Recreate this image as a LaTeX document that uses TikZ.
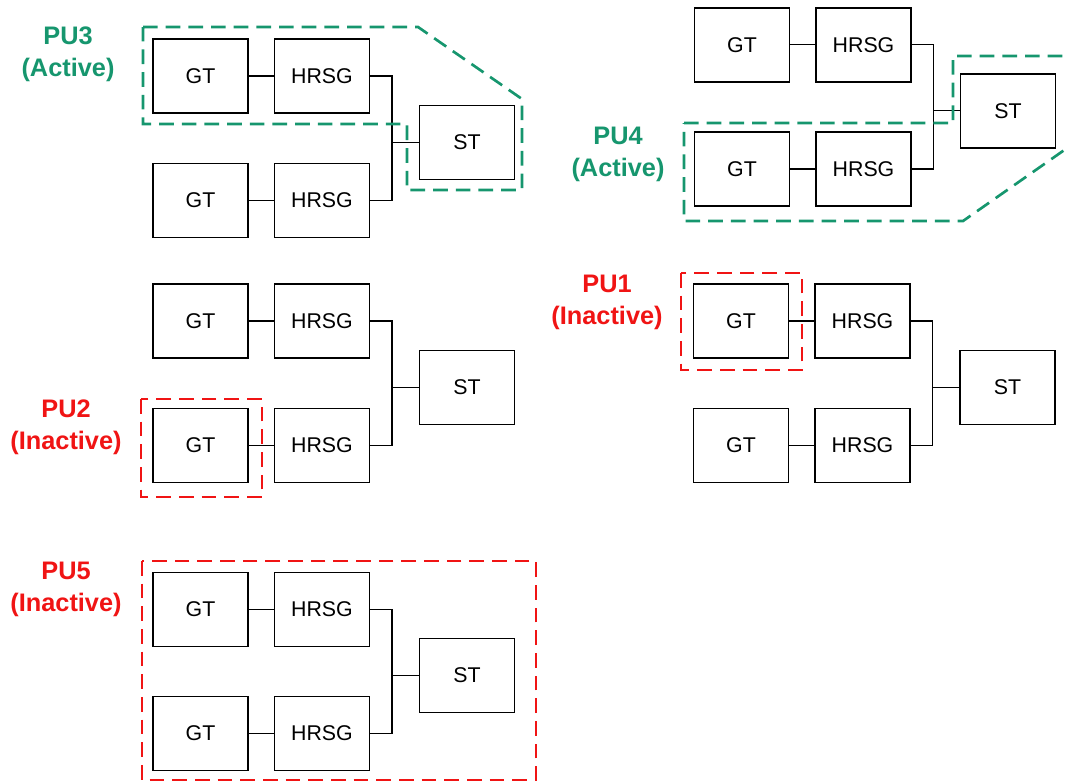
\documentclass[tikz,border=0pt]{standalone}
\usepackage{fontspec}
\setmainfont{Liberation Sans}
\definecolor{puactive}{RGB}{22,150,110}
\definecolor{puinactive}{RGB}{240,20,20}
\tikzset{
  unit/.style={draw, line width=1.2pt, minimum width=71.5pt, minimum height=55.5pt, inner sep=0pt, font=\fontsize{16}{19}\selectfont},
  link/.style={line width=1pt},
  actzone/.style={draw=puactive, line width=2pt, dash pattern=on 11pt off 6pt},
  inactzone/.style={draw=puinactive, line width=2pt, dash pattern=on 11pt off 6pt},
  pulabel/.style={align=center, font=\fontsize{19}{24}\selectfont\bfseries}
}
\begin{document}
\begin{tikzpicture}[x=0.75pt,y=-0.75pt]
\clip (0,0) rectangle (1066,782);

% top left
\node[unit] (gt1a) at (200.5,76){GT};
\node[unit] (hrsg1a) at (322,76){HRSG};
\node[unit] (gt1b) at (200.5,200.5){GT};
\node[unit] (hrsg1b) at (322,200.5){HRSG};
\node[unit] (st1) at (467,142.5){ST};
\coordinate (bus1) at (392,142.5);
\draw[link](gt1a) -- (hrsg1a);
\draw[link](gt1b) -- (hrsg1b);
\draw[link](hrsg1a.east) -| (bus1) |- (hrsg1b.east);
\draw[link](bus1) -- (st1);

% middle left
\node[unit] (gt2a) at (200.5,321){GT};
\node[unit] (hrsg2a) at (322,321){HRSG};
\node[unit] (gt2b) at (200.5,445.5){GT};
\node[unit] (hrsg2b) at (322,445.5){HRSG};
\node[unit] (st2) at (467,387.5){ST};
\coordinate (bus2) at (392,387.5);
\draw[link](gt2a) -- (hrsg2a);
\draw[link](gt2b) -- (hrsg2b);
\draw[link](hrsg2a.east) -| (bus2) |- (hrsg2b.east);
\draw[link](bus2) -- (st2);

% bottom left
\node[unit] (gt3a) at (200.5,609.5){GT};
\node[unit] (hrsg3a) at (322,609.5){HRSG};
\node[unit] (gt3b) at (200.5,733.5){GT};
\node[unit] (hrsg3b) at (322,733.5){HRSG};
\node[unit] (st3) at (467,675.5){ST};
\coordinate (bus3) at (392,675.5);
\draw[link](gt3a) -- (hrsg3a);
\draw[link](gt3b) -- (hrsg3b);
\draw[link](hrsg3a.east) -| (bus3) |- (hrsg3b.east);
\draw[link](bus3) -- (st3);

% top right
\node[unit] (gt4a) at (742,44.8){GT};
\node[unit] (hrsg4a) at (863.5,44.8){HRSG};
\node[unit] (gt4b) at (742,169){GT};
\node[unit] (hrsg4b) at (863.5,169){HRSG};
\node[unit] (st4) at (1008,110.8){ST};
\coordinate (bus4) at (933.5,110.8);
\draw[link](gt4a) -- (hrsg4a);
\draw[link](gt4b) -- (hrsg4b);
\draw[link](hrsg4a.east) -| (bus4) |- (hrsg4b.east);
\draw[link](bus4) -- (st4);

% middle right
\node[unit] (gt5a) at (741,321){GT};
\node[unit] (hrsg5a) at (862.5,321){HRSG};
\node[unit] (gt5b) at (741,445.5){GT};
\node[unit] (hrsg5b) at (862.5,445.5){HRSG};
\node[unit] (st5) at (1007.5,387.5){ST};
\coordinate (bus5) at (932.5,387.5);
\draw[link](gt5a) -- (hrsg5a);
\draw[link](gt5b) -- (hrsg5b);
\draw[link](hrsg5a.east) -| (bus5) |- (hrsg5b.east);
\draw[link](bus5) -- (st5);

% zones
\draw[actzone] (143,27) -- (418,27) -- (522,99) -- (522,190) -- (407,190) -- (407,124) -- (143,124) -- cycle;
\draw[actzone] (684,123) -- (953,123) -- (953,56) -- (1110,56) -- (1110,118) -- (963,221) -- (684,221) -- cycle;
\draw[inactzone] (141,399) rectangle (262,497);
\draw[inactzone] (681,273) rectangle (802,370);
\draw[inactzone] (142,561) rectangle (536,780);

% labels
\node[pulabel, text=puactive] (pu3) at (68,54){PU3\\(Active)};
\node[pulabel, text=puactive] (pu4) at (618,154){PU4\\(Active)};
\node[pulabel, text=puinactive] (pu1) at (607,302){PU1\\(Inactive)};
\node[pulabel, text=puinactive] (pu2) at (66,427){PU2\\(Inactive)};
\node[pulabel, text=puinactive] (pu5) at (66,589){PU5\\(Inactive)};

\end{tikzpicture}
\end{document}
